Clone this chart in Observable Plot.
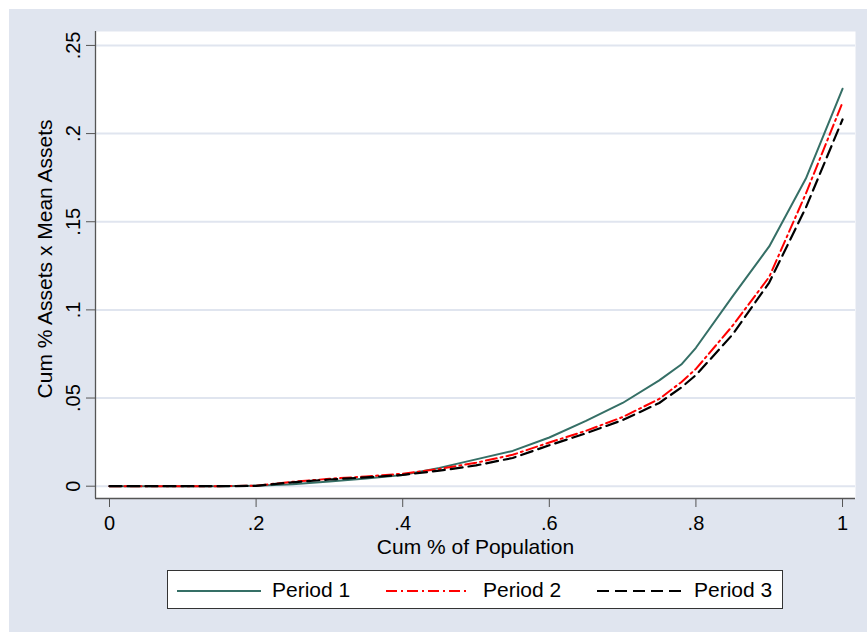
<!DOCTYPE html>
<html>
<head>
<meta charset="utf-8">
<script src="https://cdn.jsdelivr.net/npm/d3@7"></script>
<script src="https://cdn.jsdelivr.net/npm/@observablehq/plot@0.6"></script>
<style>
  body { margin: 0; background: #ffffff; font-family: "Liberation Sans", Arial, sans-serif; }
  #wrap { position: absolute; left: 9px; top: 9px; width: 858px; height: 623px; background: #e0e5ef; }
  #legend { position: absolute; left: 158px; top: 561px; width: 616px; height: 39px; background: #fff;
            border: 1px solid #333; box-sizing: border-box; }
  .item { position: absolute; top: 0; height: 37px; display: flex; align-items: center; font-size: 21px; color: #000; }
  .sw { position: absolute; top: 0; }
</style>
</head>
<body>
<div id="wrap">
  <div id="chart"></div>
  <div id="legend"></div>
</div>
<script>
// ---- data ----
const xTicks = [0, 0.2, 0.4, 0.6, 0.8, 1];
const yTicks = [0, 0.05, 0.1, 0.15, 0.2, 0.25];
const popShare = [0, 0.05, 0.1, 0.15, 0.2, 0.25, 0.3, 0.35, 0.4, 0.45, 0.5, 0.55, 0.6, 0.65, 0.7, 0.75, 0.78, 0.8, 0.85, 0.9, 0.95, 1];
const period1 = [0, 0, 0, 0, 0.0002, 0.0011, 0.0026, 0.0043, 0.0064, 0.0104, 0.0152, 0.0200, 0.0276, 0.0370, 0.0472, 0.0600, 0.0690, 0.0785, 0.1077, 0.1360, 0.1745, 0.2254];
const period2 = [0, 0, 0, 0, 0.0003, 0.0025, 0.0042, 0.0055, 0.0071, 0.0098, 0.0133, 0.0178, 0.0248, 0.0314, 0.0392, 0.0495, 0.0590, 0.0665, 0.0910, 0.1187, 0.1660, 0.2176];
const period3 = [0, 0, 0, 0, 0.0002, 0.0022, 0.0038, 0.0050, 0.0064, 0.0088, 0.0118, 0.0160, 0.0232, 0.0300, 0.0375, 0.0472, 0.0560, 0.0630, 0.0860, 0.1155, 0.1580, 0.2080];
const seriesNames = ["Period 1", "Period 2", "Period 3"];
const xTitle = "Cum % of Population";
const yTitle = "Cum % Assets x Mean Assets";

// ---- styles ----
const styles = [
  {stroke: "#356f66", strokeWidth: 2, dash: null},
  {stroke: "#ff0000", strokeWidth: 2, dash: "11,4,2,4"},
  {stroke: "#000000", strokeWidth: 2.2, dash: "12,6"}
];
const bg = "#e0e5ef";
const xDomain = [-0.0191, 1.0177];
const yDomain = [-0.00698, 0.2579];

const seriesValues = [period1, period2, period3];
const rows = seriesValues.map((vals, s) => popShare.map((x, i) => ({x, y: vals[i], series: seriesNames[s]})));
const fmt = d => String(d).replace(/^0\./, ".");

const chart = Plot.plot({
  width: 858,
  height: 555,
  marginLeft: 86,
  marginRight: 12,
  marginTop: 22,
  marginBottom: 66,
  style: {background: "transparent", fontFamily: "'Liberation Sans', Arial, sans-serif", fontSize: "20px", color: "#000", overflow: "visible"},
  x: {domain: xDomain},
  y: {domain: yDomain},
  marks: [
    Plot.frame({fill: "white", stroke: "none"}),
    Plot.gridY(yTicks, {stroke: bg, strokeOpacity: 1, strokeWidth: 2}),
    Plot.ruleX([xDomain[0]], {stroke: "#555", strokeWidth: 1.3}),
    Plot.ruleY([yDomain[0]], {stroke: "#555", strokeWidth: 1.6}),
    ...rows.map((r, s) => Plot.line(r, {x: "x", y: "y", stroke: styles[s].stroke, strokeWidth: styles[s].strokeWidth,
      strokeDasharray: styles[s].dash, strokeLinejoin: "round"})),
    Plot.axisY({ticks: yTicks, tickSize: 9, tickPadding: 7, tickRotate: -90, tickFormat: fmt, stroke: "#555", label: null}),
    Plot.axisX({ticks: xTicks, tickSize: 9, tickPadding: 8, tickFormat: fmt, stroke: "#555", label: null}),
    Plot.text([xTitle], {text: d => d, frameAnchor: "bottom", dy: 49, lineAnchor: "middle", textAnchor: "middle", fontSize: 21, fill: "#000"}),
    Plot.text([yTitle], {text: d => d, frameAnchor: "left", dx: -50, dy: -6, rotate: -90, lineAnchor: "middle", textAnchor: "middle", fontSize: 21, fill: "#000"})
  ]
});
document.getElementById("chart").appendChild(chart);

// ---- legend ----
const legend = document.getElementById("legend");
const swX = [9, 218, 429];
const txX = [104, 315, 526];
seriesNames.forEach((name, s) => {
  const ns = "http://www.w3.org/2000/svg";
  const svg = document.createElementNS(ns, "svg");
  svg.setAttribute("width", 84); svg.setAttribute("height", 37);
  svg.setAttribute("class", "sw");
  svg.style.left = swX[s] + "px";
  const ln = document.createElementNS(ns, "line");
  ln.setAttribute("x1", 0); ln.setAttribute("x2", 84);
  ln.setAttribute("y1", 20); ln.setAttribute("y2", 20);
  ln.setAttribute("stroke", styles[s].stroke);
  ln.setAttribute("stroke-width", styles[s].strokeWidth);
  if (styles[s].dash) ln.setAttribute("stroke-dasharray", styles[s].dash);
  svg.appendChild(ln);
  legend.appendChild(svg);
  const t = document.createElement("div");
  t.className = "item";
  t.style.left = txX[s] + "px";
  t.textContent = name;
  legend.appendChild(t);
});
</script>
</body>
</html>
